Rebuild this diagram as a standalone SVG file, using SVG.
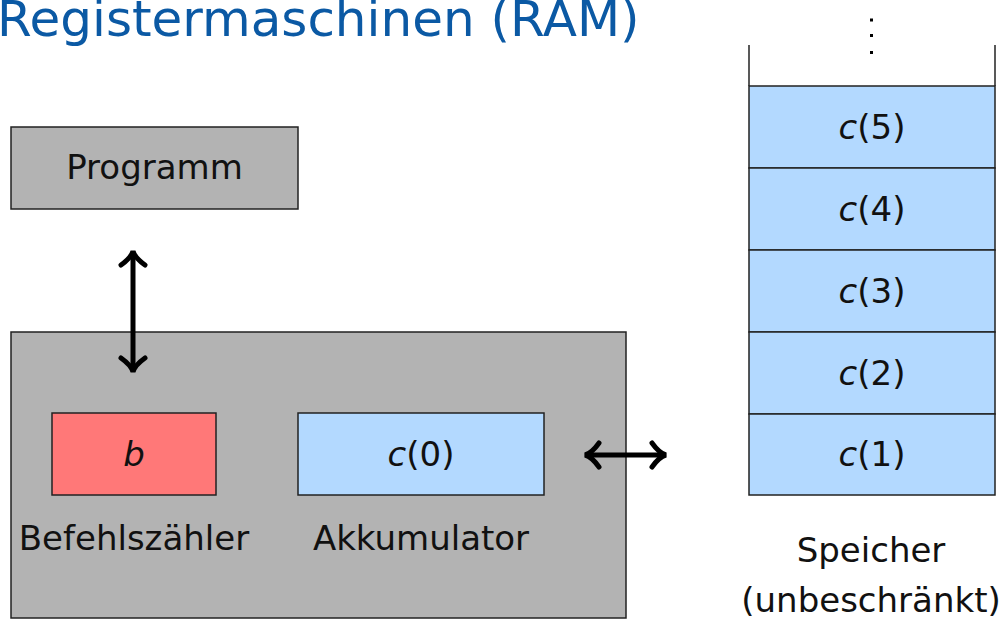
<svg xmlns="http://www.w3.org/2000/svg" width="1002" height="620" viewBox="0 0 1002 620">
<style>
.box{stroke:#222;stroke-width:1.5}
.gray{fill:#b3b3b3}
.blue{fill:#b3d9ff}
.red{fill:#ff7878}
.t{font-family:"DejaVu Sans",sans-serif;font-size:34px;fill:#111;text-anchor:middle}
.i{font-style:italic}
.arr{stroke:#000;stroke-width:5;fill:none}
</style>
<defs>
<marker id="ah" markerUnits="userSpaceOnUse" markerWidth="40" markerHeight="40" viewBox="-20 -20 40 40" refX="0" refY="0" orient="auto-start-reverse" overflow="visible">
<path d="M -13 -12 C -8 -5 -3 -1 1 0 C -3 1 -8 5 -13 12" fill="none" stroke="#000" stroke-width="5" stroke-linecap="round"/>
</marker>
</defs>
<rect width="1002" height="620" fill="#fff"/>
<text x="-3" y="36" style="font-family:'DejaVu Sans',sans-serif;font-size:50px;fill:#0b59a4">Registermaschinen (RAM)</text>
<g id="programm">
<rect class="box gray" x="11" y="127" width="287" height="82"/>
<text class="t" x="154.5" y="179">Programm</text>
</g>
<g id="cpu">
<rect class="box gray" x="11" y="332" width="615" height="286"/>
</g>
<g id="befehlszaehler">
<rect class="box red" x="52" y="413" width="164" height="82"/>
<text class="t i" x="134" y="466">b</text>
<text class="t" x="134" y="550">Befehlszähler</text>
</g>
<g id="akkumulator">
<rect class="box blue" x="298" y="413" width="246" height="82"/>
<text class="t" x="421" y="466"><tspan class="i">c</tspan>(0)</text>
<text class="t" x="421" y="550">Akkumulator</text>
</g>
<g id="speicher">
<line x1="749" y1="45" x2="749" y2="86" stroke="#222" stroke-width="1.5"/>
<line x1="995" y1="45" x2="995" y2="86" stroke="#222" stroke-width="1.5"/>
<rect x="870" y="18.5" width="3" height="3" fill="#000"/>
<rect x="870" y="34" width="3" height="3" fill="#000"/>
<rect x="870" y="51" width="3" height="3" fill="#000"/>
<rect class="box blue" x="749" y="86" width="246" height="82"/>
<text class="t" x="872" y="139"><tspan class="i">c</tspan>(5)</text>
<rect class="box blue" x="749" y="168" width="246" height="82"/>
<text class="t" x="872" y="221"><tspan class="i">c</tspan>(4)</text>
<rect class="box blue" x="749" y="250" width="246" height="82"/>
<text class="t" x="872" y="303"><tspan class="i">c</tspan>(3)</text>
<rect class="box blue" x="749" y="332" width="246" height="82"/>
<text class="t" x="872" y="385"><tspan class="i">c</tspan>(2)</text>
<rect class="box blue" x="749" y="414" width="246" height="81"/>
<text class="t" x="872" y="466"><tspan class="i">c</tspan>(1)</text>
<text class="t" x="871" y="562">Speicher</text>
<text class="t" x="871" y="612">(unbeschränkt)</text>
</g>
<g id="connectors">
<line class="arr" x1="133" y1="252" x2="133" y2="371" marker-start="url(#ah)" marker-end="url(#ah)"/>
<line class="arr" x1="586" y1="455" x2="665" y2="455" marker-start="url(#ah)" marker-end="url(#ah)"/>
</g>
</svg>
